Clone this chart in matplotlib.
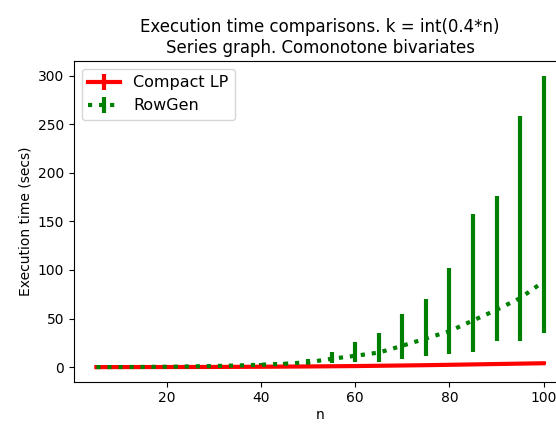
import numpy as np
import matplotlib
matplotlib.use('Agg')
import matplotlib.pyplot as plt

# Problem sizes
n_values = [5, 10, 15, 20, 25, 30, 35, 40, 45, 50,
            55, 60, 65, 70, 75, 80, 85, 90, 95, 100]

# Compact LP timings (mean, min, max)
lp_mean = [0.02, 0.04, 0.07, 0.1, 0.15, 0.2, 0.3, 0.4, 0.55, 0.7,
           0.9, 1.1, 1.4, 1.7, 2.0, 2.4, 2.8, 3.2, 3.6, 4.0]
lp_min = [0.01, 0.03, 0.05, 0.08, 0.12, 0.16, 0.24, 0.33, 0.45, 0.58,
          0.75, 0.9, 1.15, 1.4, 1.65, 2.0, 2.3, 2.6, 3.0, 3.3]
lp_max = [0.03, 0.05, 0.09, 0.13, 0.19, 0.25, 0.37, 0.5, 0.68, 0.86,
          1.1, 1.35, 1.7, 2.1, 2.45, 2.9, 3.4, 3.9, 4.4, 4.9]

# RowGen timings (mean, min, max)
rg_mean = [0.05, 0.1, 0.2, 0.4, 0.7, 1.1, 1.7, 2.5, 3.5, 5.0,
           8.6, 11.7, 15.0, 22.0, 29.5, 37.0, 48.0, 59.0, 71.0, 88.0]
rg_min = [0.03, 0.06, 0.1, 0.2, 0.3, 0.5, 0.8, 1.2, 1.8, 2.7,
          4.5, 5.2, 5.2, 8.6, 11.4, 13.0, 15.9, 26.9, 26.9, 35.5]
rg_max = [0.1, 0.2, 0.4, 0.7, 1.1, 1.7, 2.6, 3.8, 5.5, 8.0,
          15.9, 25.9, 34.8, 54.5, 70.0, 102.0, 158.0, 176.6, 258.6, 300.0]

n = np.array(n_values)
lp_err = [np.array(lp_mean) - np.array(lp_min), np.array(lp_max) - np.array(lp_mean)]
rg_err = [np.array(rg_mean) - np.array(rg_min), np.array(rg_max) - np.array(rg_mean)]

fig = plt.figure(figsize=(5.56, 4.24), dpi=100)
# axes run a bit past the right edge, as in the cropped original
ax = fig.add_axes([74 / 556, 42.3 / 424, 492 / 556, 320.7 / 424])

ax.errorbar(n, lp_mean, yerr=lp_err, color='red', linewidth=3,
            elinewidth=3, label='Compact LP')
ax.errorbar(n, rg_mean, yerr=rg_err, color='green', linewidth=3,
            linestyle=':', elinewidth=3, label='RowGen')

ax.set_xlabel('n', labelpad=2)
ax.set_ylabel('Execution time (secs)')
ax.set_title('Execution time comparisons. k = int(0.4*n)\nSeries graph. Comonotone bivariates',
             fontsize=12)
ax.legend(loc='upper left', fontsize=11.5)

fig.savefig('out.png', dpi=100)
